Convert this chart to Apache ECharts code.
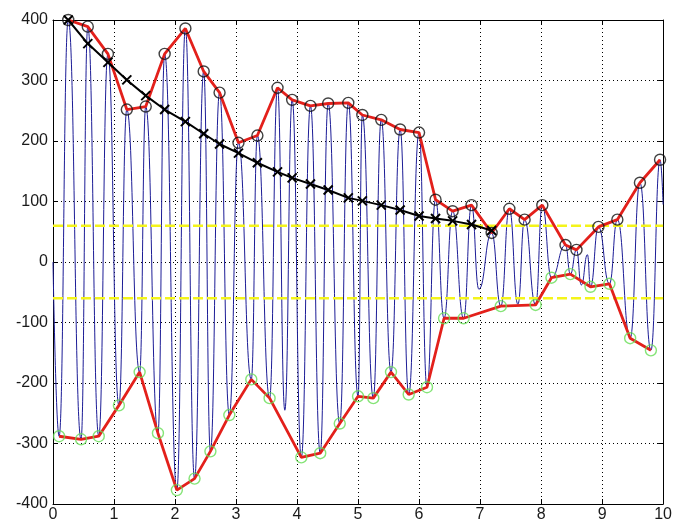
<!DOCTYPE html>
<html>
<head>
<meta charset="utf-8">
<script src="https://cdn.jsdelivr.net/npm/echarts@6/dist/echarts.min.js"></script>
<style>
html,body{margin:0;padding:0;background:#fff;}
#chart{width:675px;height:527px;}
</style>
</head>
<body>
<div id="chart"></div>
<script>
// Blue oscillating signal (peaks / troughs)
const signalX = [0,0.10,0.25,0.46,0.57,0.75,0.90,1.08,1.21,1.42,1.52,1.72,1.83,2.03,2.17,2.32,2.47,2.58,2.73,2.89,3.04,3.25,3.35,3.55,3.68,3.80,3.92,4.07,4.22,4.38,4.51,4.70,4.84,5.00,5.07,5.25,5.38,5.54,5.69,5.83,6.00,6.13,6.27,6.41,6.55,6.73,6.86,6.98,7.19,7.34,7.48,7.62,7.73,7.91,8.02,8.17,8.40,8.48,8.58,8.66,8.76,8.81,8.94,9.12,9.25,9.46,9.62,9.80,9.95,10];
const signalY = [0,-288,400,-293,389,-288,344,-237,252,-182,257,-283,344,-377,386,-358,315,-313,280,-253,197,-194,209,-225,288,-245,268,-323,258,-316,262,-267,263,-222,243,-225,235,-182,219,-219,214,-207,103,-93,84,-93,94,-45,48,-73,88,-70,70,-71,94,-26,28,-20,20,-38,12,-41,58,-36,70,-126,131,-146,169,95];

// Upper envelope (black circles, red line)
const upperX = [0.25,0.57,0.90,1.21,1.52,1.83,2.17,2.47,2.73,3.04,3.35,3.68,3.92,4.22,4.51,4.84,5.07,5.38,5.69,6.00,6.27,6.55,6.86,7.19,7.48,7.73,8.02,8.40,8.58,8.94,9.25,9.62,9.95];
const upperY = [400,389,344,252,257,344,386,315,280,197,209,288,268,258,262,263,243,235,219,214,103,84,94,48,88,70,94,28,20,58,70,131,169];

// Lower envelope (green circles, red line)
const lowerX = [0.10,0.46,0.75,1.08,1.42,1.72,2.03,2.32,2.58,2.89,3.25,3.55,4.07,4.38,4.70,5.00,5.25,5.54,5.83,6.13,6.41,6.73,7.34,7.91,8.17,8.48,8.81,9.12,9.46,9.80];
const lowerY = [-288,-293,-288,-237,-182,-283,-377,-358,-313,-253,-194,-225,-323,-316,-267,-222,-225,-182,-219,-207,-93,-93,-73,-71,-26,-20,-41,-36,-126,-146];

// Decaying black curve with x markers
const decayX = [0.25,0.57,0.90,1.21,1.52,1.83,2.17,2.47,2.73,3.04,3.35,3.68,3.92,4.22,4.51,4.84,5.07,5.38,5.69,6.00,6.27,6.55,6.86,7.19];
const decayY = [400,361,330,301,275,252,232,212,195,180,164,149,139,129,119,106,101,94,86,76,72,68,62,52];

// Yellow dashed thresholds
const thresholds = [60, -60];
const thresholdRange = [0, 10];

// Axes
const xTicks = [0,1,2,3,4,5,6,7,8,9,10];
const yTicks = [-400,-300,-200,-100,0,100,200,300,400];

const zip = (xs, ys) => xs.map((x, i) => [x, ys[i]]);

const labelFont = {color:'#1a1a1a', fontSize:16, fontFamily:'Liberation Sans, Arial, sans-serif'};
const gridLine = {show:true, lineStyle:{color:'#000', width:1, type:[1,3]}};

const chart = echarts.init(document.getElementById('chart'), null, {renderer:'canvas'});
const xPathSym = 'path://M0,0L10,10M10,0L0,10';

chart.setOption({
  animation:false,
  backgroundColor:'#fff',
  grid:{left:53, right:10, top:20, bottom:23, containLabel:false},
  xAxis:[
    {type:'value', min:xTicks[0], max:xTicks[xTicks.length-1], interval:1, position:'bottom',
     axisLine:{show:true, onZero:false, lineStyle:{color:'#000', width:1}},
     axisTick:{show:true, inside:true, length:5, lineStyle:{color:'#000'}},
     axisLabel:Object.assign({margin:3}, labelFont),
     splitLine:gridLine},
    {type:'value', min:xTicks[0], max:xTicks[xTicks.length-1], interval:1, position:'top',
     axisLine:{show:true, onZero:false, lineStyle:{color:'#000', width:1}},
     axisTick:{show:true, inside:true, length:5, lineStyle:{color:'#000'}},
     axisLabel:{show:false}, splitLine:{show:false}}
  ],
  yAxis:[
    {type:'value', min:yTicks[0], max:yTicks[yTicks.length-1], interval:100, position:'left',
     axisLine:{show:true, onZero:false, lineStyle:{color:'#000', width:1}},
     axisTick:{show:true, inside:true, length:5, lineStyle:{color:'#000'}},
     axisLabel:Object.assign({margin:5}, labelFont),
     splitLine:gridLine},
    {type:'value', min:yTicks[0], max:yTicks[yTicks.length-1], interval:100, position:'right',
     axisLine:{show:true, onZero:false, lineStyle:{color:'#000', width:1}},
     axisTick:{show:true, inside:true, length:5, lineStyle:{color:'#000'}},
     axisLabel:{show:false}, splitLine:{show:false}}
  ],
  series:[
    {type:'line', name:'signal', data:zip(signalX, signalY), symbol:'none',
     smooth:0.5, smoothMonotone:'x',
     lineStyle:{color:'#1c1c96', width:1}, z:1},
    {type:'line', name:'thrUp', data:thresholdRange.map(x=>[x, thresholds[0]]), symbol:'none',
     lineStyle:{color:'#f4f41a', width:2.5, type:[10,4]}, z:2},
    {type:'line', name:'thrDown', data:thresholdRange.map(x=>[x, thresholds[1]]), symbol:'none',
     lineStyle:{color:'#f4f41a', width:2.5, type:[10,4]}, z:2},
    {type:'line', name:'upperEnv', data:zip(upperX, upperY), symbol:'none',
     lineStyle:{color:'#e3201b', width:2.8}, z:3},
    {type:'line', name:'lowerEnv', data:zip(lowerX, lowerY), symbol:'none',
     lineStyle:{color:'#e3201b', width:2.8}, z:3},
    {type:'scatter', name:'upperPts', data:zip(upperX, upperY), symbol:'circle', symbolSize:11, clip:false,
     itemStyle:{color:'rgba(0,0,0,0)', borderColor:'#111', borderWidth:1.4}, z:4},
    {type:'scatter', name:'lowerPts', data:zip(lowerX, lowerY), symbol:'circle', symbolSize:11, clip:false,
     itemStyle:{color:'rgba(0,0,0,0)', borderColor:'#66dd55', borderWidth:1.4}, z:4},
    {type:'line', name:'decay', data:zip(decayX, decayY), symbol:xPathSym, symbolSize:9, showAllSymbol:true,
     lineStyle:{color:'#000', width:2},
     itemStyle:{color:'rgba(0,0,0,0)', borderColor:'#000', borderWidth:2}, z:5}
  ]
});
</script>
</body>
</html>
